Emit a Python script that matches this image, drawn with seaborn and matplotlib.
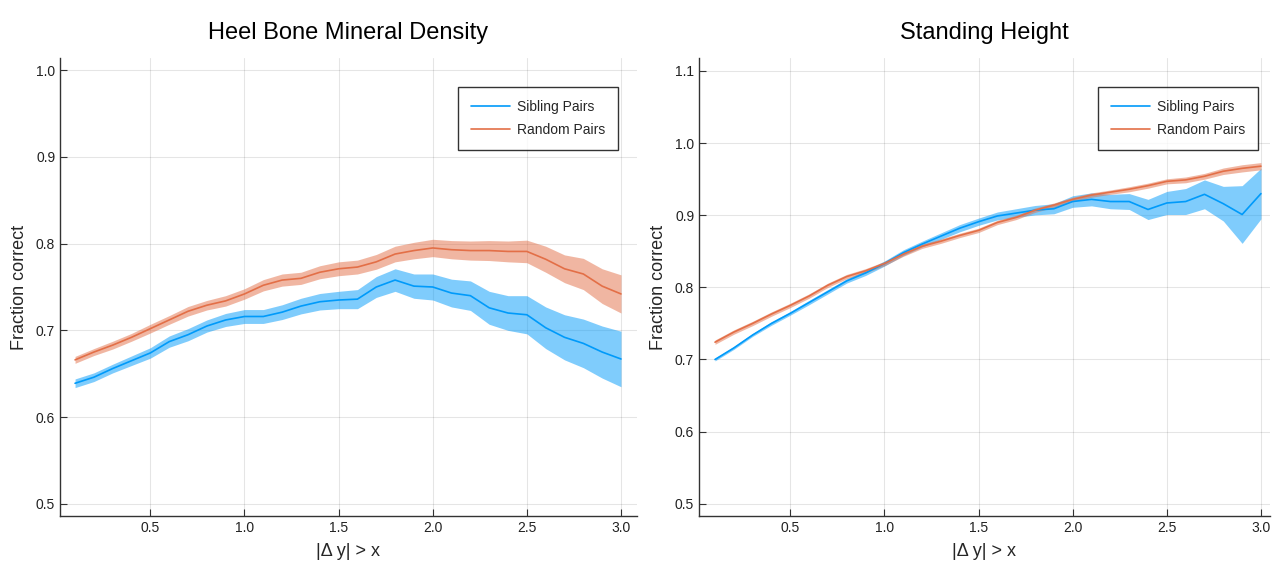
import numpy as np
import pandas as pd
import matplotlib
matplotlib.use("Agg")
import matplotlib.pyplot as plt
import seaborn as sns

# ---- data ----
threshold = [round(0.1 * k, 1) for k in range(1, 31)]

heel_sibling = [0.639, 0.646, 0.656, 0.665, 0.674, 0.687, 0.695, 0.705, 0.712, 0.716,
                0.716, 0.721, 0.728, 0.733, 0.735, 0.736, 0.750, 0.758, 0.751, 0.750,
                0.743, 0.740, 0.726, 0.720, 0.718, 0.703, 0.692, 0.685, 0.675, 0.667]
heel_sibling_err = [0.005, 0.005, 0.005, 0.0055, 0.006, 0.0065, 0.007, 0.007, 0.0075, 0.008,
                    0.008, 0.0085, 0.009, 0.0095, 0.010, 0.011, 0.012, 0.013, 0.014, 0.015,
                    0.016, 0.017, 0.019, 0.020, 0.022, 0.024, 0.026, 0.028, 0.030, 0.032]
heel_random = [0.666, 0.675, 0.683, 0.692, 0.702, 0.712, 0.722, 0.729, 0.734, 0.742,
               0.752, 0.758, 0.760, 0.767, 0.771, 0.773, 0.779, 0.788, 0.792, 0.795,
               0.793, 0.792, 0.792, 0.791, 0.791, 0.782, 0.771, 0.765, 0.751, 0.742]
heel_random_err = [0.004, 0.004, 0.0045, 0.0045, 0.005, 0.005, 0.0055, 0.0055, 0.006, 0.006,
                   0.0065, 0.007, 0.007, 0.0075, 0.008, 0.008, 0.0085, 0.009, 0.0095, 0.010,
                   0.0105, 0.011, 0.0115, 0.012, 0.013, 0.015, 0.016, 0.018, 0.020, 0.022]

height_sibling = [0.700, 0.716, 0.734, 0.750, 0.764, 0.779, 0.794, 0.809, 0.820, 0.833,
                  0.848, 0.860, 0.871, 0.882, 0.891, 0.899, 0.903, 0.907, 0.909, 0.919,
                  0.922, 0.919, 0.919, 0.908, 0.917, 0.919, 0.929, 0.916, 0.901, 0.930]
height_sibling_err = [0.002, 0.002, 0.002, 0.0025, 0.0025, 0.003, 0.003, 0.003, 0.0035, 0.0035,
                      0.004, 0.004, 0.0045, 0.005, 0.005, 0.0055, 0.006, 0.0065, 0.007, 0.008,
                      0.009, 0.010, 0.011, 0.014, 0.016, 0.018, 0.020, 0.024, 0.040, 0.035]
height_random = [0.724, 0.738, 0.750, 0.763, 0.775, 0.788, 0.803, 0.815, 0.823, 0.833,
                 0.846, 0.857, 0.864, 0.872, 0.879, 0.890, 0.897, 0.907, 0.914, 0.922,
                 0.928, 0.932, 0.936, 0.941, 0.947, 0.949, 0.954, 0.961, 0.965, 0.968]
height_random_err = [0.003, 0.003, 0.003, 0.003, 0.003, 0.003, 0.003, 0.003, 0.003, 0.003,
                     0.003, 0.003, 0.003, 0.003, 0.003, 0.003, 0.003, 0.003, 0.003, 0.003,
                     0.003, 0.003, 0.0035, 0.0035, 0.0035, 0.004, 0.004, 0.0045, 0.005, 0.005]

series_names = ["Sibling Pairs", "Random Pairs"]
titles = ["Heel Bone Mineral Density", "Standing Height"]

# ---- style ----
sns.set_style("white")
FONT = ["Liberation Sans Narrow", "Liberation Sans", "DejaVu Sans"]
plt.rcParams["font.family"] = FONT

colors = {"Sibling Pairs": "#009AFA", "Random Pairs": "#E36F47"}

W, H = 1272, 565
fig = plt.figure(figsize=(W / 100, H / 100), dpi=100)
ax1 = fig.add_axes([60 / W, (H - 516) / H, 577 / W, 458 / H])
ax2 = fig.add_axes([699 / W, (H - 516) / H, 571 / W, 458 / H])

panels = [
    (ax1, heel_sibling, heel_sibling_err, heel_random, heel_random_err,
     (0.02, 3.085), (0.486, 1.014), [0.5, 0.6, 0.7, 0.8, 0.9, 1.0], 618),
    (ax2, height_sibling, height_sibling_err, height_random, height_random_err,
     (0.015, 3.048), (0.483, 1.118), [0.5, 0.6, 0.7, 0.8, 0.9, 1.0, 1.1], 1258),
]

for i, (ax, sm, se, rm, re, xl, yl, yt, leg_right) in enumerate(panels):
    df = pd.DataFrame({
        "x": threshold * 2,
        "y": sm + rm,
        "err": se + re,
        "series": [series_names[0]] * len(threshold) + [series_names[1]] * len(threshold),
    })
    for name in series_names:
        d = df[df["series"] == name]
        ax.fill_between(d["x"], d["y"] - d["err"], d["y"] + d["err"],
                        color=colors[name], alpha=0.5, linewidth=0, zorder=2)
    sns.lineplot(data=df, x="x", y="y", hue="series", palette=colors,
                 hue_order=series_names, ax=ax, linewidth=1.2, zorder=3)

    ax.set_xlim(*xl)
    ax.set_ylim(*yl)
    ax.set_xticks([0.5, 1.0, 1.5, 2.0, 2.5, 3.0])
    ax.set_yticks(yt)
    ax.grid(True, color="black", alpha=0.1, linewidth=0.8)
    for s in ["top", "right"]:
        ax.spines[s].set_visible(False)
    for s in ["left", "bottom"]:
        ax.spines[s].set_color("#333333")
        ax.spines[s].set_linewidth(1.0)
    ax.tick_params(direction="in", length=5, width=0.8, colors="#333333",
                   labelsize=10, labelcolor="#222222", left=True, bottom=True)
    ax.set_title(titles[i], fontsize=17, pad=14, color="black")
    ax.set_xlabel("|Δ y| > x", fontsize=13, labelpad=6)
    ax.set_ylabel("Fraction correct", fontsize=13, labelpad=6)
    leg = ax.legend(loc="upper right",
                    bbox_to_anchor=(leg_right / W, 1 - 87 / H),
                    bbox_transform=fig.transFigure, fontsize=10,
                    frameon=True, fancybox=False, edgecolor="black",
                    handlelength=2.8, handletextpad=0.5, borderpad=0.95,
                    labelspacing=0.6, borderaxespad=0)
    leg.get_frame().set_linewidth(1.0)
    leg.set_title(None)

fig.savefig("out.png", dpi=100)
